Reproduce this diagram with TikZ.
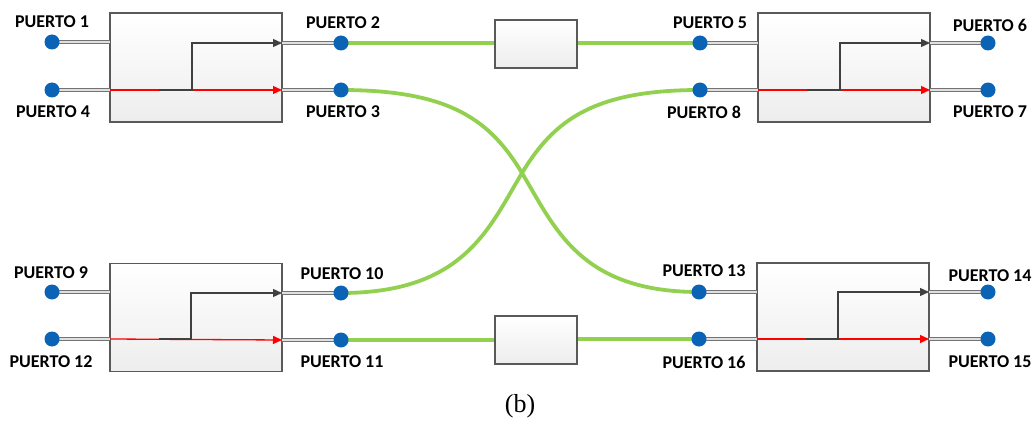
\documentclass[tikz,border=0pt]{standalone}
\usepackage{fontspec}
\setmainfont{Carlito}
\newfontfamily\capfont{Liberation Serif}
\usetikzlibrary{arrows.meta}
\definecolor{portblue}{RGB}{11,99,181}
\definecolor{fibre}{RGB}{146,208,80}
\begin{document}
\begin{tikzpicture}[x=1pt,y=-1pt,
  blk/.style={draw=black!65, line width=1.3pt, top color=white, bottom color=black!7, inner sep=0pt},
  port/.style={circle, fill=portblue, inner sep=0pt, minimum size=15pt},
  plabel/.style={font=\fontsize{18}{20}\selectfont\bfseries, inner sep=0pt},
  dline/.style={draw=black!55, double=black!12, double distance=1.2pt, line width=1.1pt},
  gline/.style={draw=fibre, line width=3.8pt},
  blkarrow/.style={draw=black!75, line width=1.3pt, -{Triangle[length=9pt,width=8pt]}},
  redarrow/.style={draw=red, line width=1.3pt, -{Triangle[length=9pt,width=8pt]}}
]
\useasboundingbox (0,0) rectangle (1034,425);

% ---------- boxes ----------
\node[blk, minimum width=172pt, minimum height=109pt] (B1) at (196,67.5) {};
\node[blk, minimum width=172pt, minimum height=109pt] (B2) at (844,67.5) {};
\node[blk, minimum width=172pt, minimum height=108pt] (B3) at (196,317.5) {};
\node[blk, minimum width=172pt, minimum height=108pt] (B4) at (843,317) {};
\node[blk, minimum width=82pt, minimum height=48pt] (M1) at (536,44) {};
\node[blk, minimum width=82pt, minimum height=48pt] (M2) at (536,340) {};

% ---------- coordinates on box edges ----------
\coordinate (b1l1) at (110,42);  \coordinate (b1l2) at (110,90);
\coordinate (b1r1) at (282,43);  \coordinate (b1r2) at (282,90);
\coordinate (b2l1) at (758,43);  \coordinate (b2l2) at (758,90);
\coordinate (b2r1) at (930,43);  \coordinate (b2r2) at (930,90);
\coordinate (b3l1) at (110,292); \coordinate (b3l2) at (110,339);
\coordinate (b3r1) at (282,293); \coordinate (b3r2) at (282,340);
\coordinate (b4l1) at (757,292); \coordinate (b4l2) at (757,339);
\coordinate (b4r1) at (929,292); \coordinate (b4r2) at (929,339);

% ---------- internal routing ----------
\draw[redarrow] (b1l2) -- (b1r2);
\draw[blkarrow] (159,90) -- (192,90) -- (192,43) -- (b1r1);
\draw[redarrow] (b2l2) -- (b2r2);
\draw[blkarrow] (807,90) -- (840,90) -- (840,43) -- (b2r1);
\draw[redarrow] (b3l2) -- (b3r2);
\draw[blkarrow] (159,339) -- (191,339) -- (191,293) -- (b3r1);
\draw[redarrow] (b4l2) -- (b4r2);
\draw[blkarrow] (806,339) -- (838,339) -- (838,292) -- (b4r1);

% ---------- green fibres ----------
\coordinate (p2) at (341,43); \coordinate (p3) at (341,90);
\coordinate (p5) at (700,43); \coordinate (p8) at (700,90);
\coordinate (p10) at (341,293); \coordinate (p11) at (341,340);
\coordinate (p13) at (699,292); \coordinate (p16) at (699,339);
\coordinate (x) at (522,173);
\draw[gline] (p2) -- (M1.west |- p2);
\draw[gline] (M1.east |- p5) -- (p5);
\draw[gline] (p11) -- (M2.west |- p11);
\draw[gline] (M2.east |- p16) -- (p16);
\draw[gline] (p3) .. controls (450,90) and (490,120) .. (x)
                  .. controls (555,228) and (580,292) .. (p13);
\draw[gline] (p8) .. controls (594,90) and (554,120) .. (x)
                  .. controls (489,228) and (464,293) .. (p10);

% ---------- port leads ----------
\draw[dline] (52,42) -- (b1l1);  \draw[dline] (52,90) -- (b1l2);
\draw[dline] (b1r1) -- (p2);     \draw[dline] (b1r2) -- (p3);
\draw[dline] (p5) -- (b2l1);     \draw[dline] (p8) -- (b2l2);
\draw[dline] (b2r1) -- (988,43); \draw[dline] (b2r2) -- (988,90);
\draw[dline] (52,292) -- (b3l1); \draw[dline] (52,339) -- (b3l2);
\draw[dline] (b3r1) -- (p10);    \draw[dline] (b3r2) -- (p11);
\draw[dline] (p13) -- (b4l1);    \draw[dline] (p16) -- (b4l2);
\draw[dline] (b4r1) -- (988,292);\draw[dline] (b4r2) -- (988,339);

% ---------- ports ----------
\node[port] (P1) at (52,42) {};   \node[port] (P4) at (52,90) {};
\node[port] (P2) at (p2) {};      \node[port] (P3) at (p3) {};
\node[port] (P5) at (p5) {};      \node[port] (P8) at (p8) {};
\node[port] (P6) at (988,43) {};  \node[port] (P7) at (988,90) {};
\node[port] (P9) at (52,292) {};  \node[port] (P12) at (52,339) {};
\node[port] (P10) at (p10) {};    \node[port] (P11) at (p11) {};
\node[port] (P13) at (p13) {};    \node[port] (P16) at (p16) {};
\node[port] (P14) at (988,292) {};\node[port] (P15) at (988,339) {};

% ---------- labels ----------
\node[plabel] (L1) at (52,22) {PUERTO 1};
\node[plabel] (L4) at (53,112) {PUERTO 4};
\node[plabel] (L2) at (343,23) {PUERTO 2};
\node[plabel] (L3) at (343,112) {PUERTO 3};
\node[plabel] (L5) at (710,23) {PUERTO 5};
\node[plabel] (L8) at (704,112) {PUERTO 8};
\node[plabel] (L6) at (990,25) {PUERTO 6};
\node[plabel] (L7) at (990,112) {PUERTO 7};
\node[plabel] (L9) at (51,273) {PUERTO 9};
\node[plabel] (L12) at (51,362) {PUERTO 12};
\node[plabel] (L10) at (342,274) {PUERTO 10};
\node[plabel] (L11) at (342,362) {PUERTO 11};
\node[plabel] (L13) at (704,271) {PUERTO 13};
\node[plabel] (L16) at (704,362) {PUERTO 16};
\node[plabel] (L14) at (990,276) {PUERTO 14};
\node[plabel] (L15) at (990,362) {PUERTO 15};

\node[font=\capfont\fontsize{26}{28}\selectfont, inner sep=0pt] (cap) at (520,406) {(b)};
\end{tikzpicture}
\end{document}
